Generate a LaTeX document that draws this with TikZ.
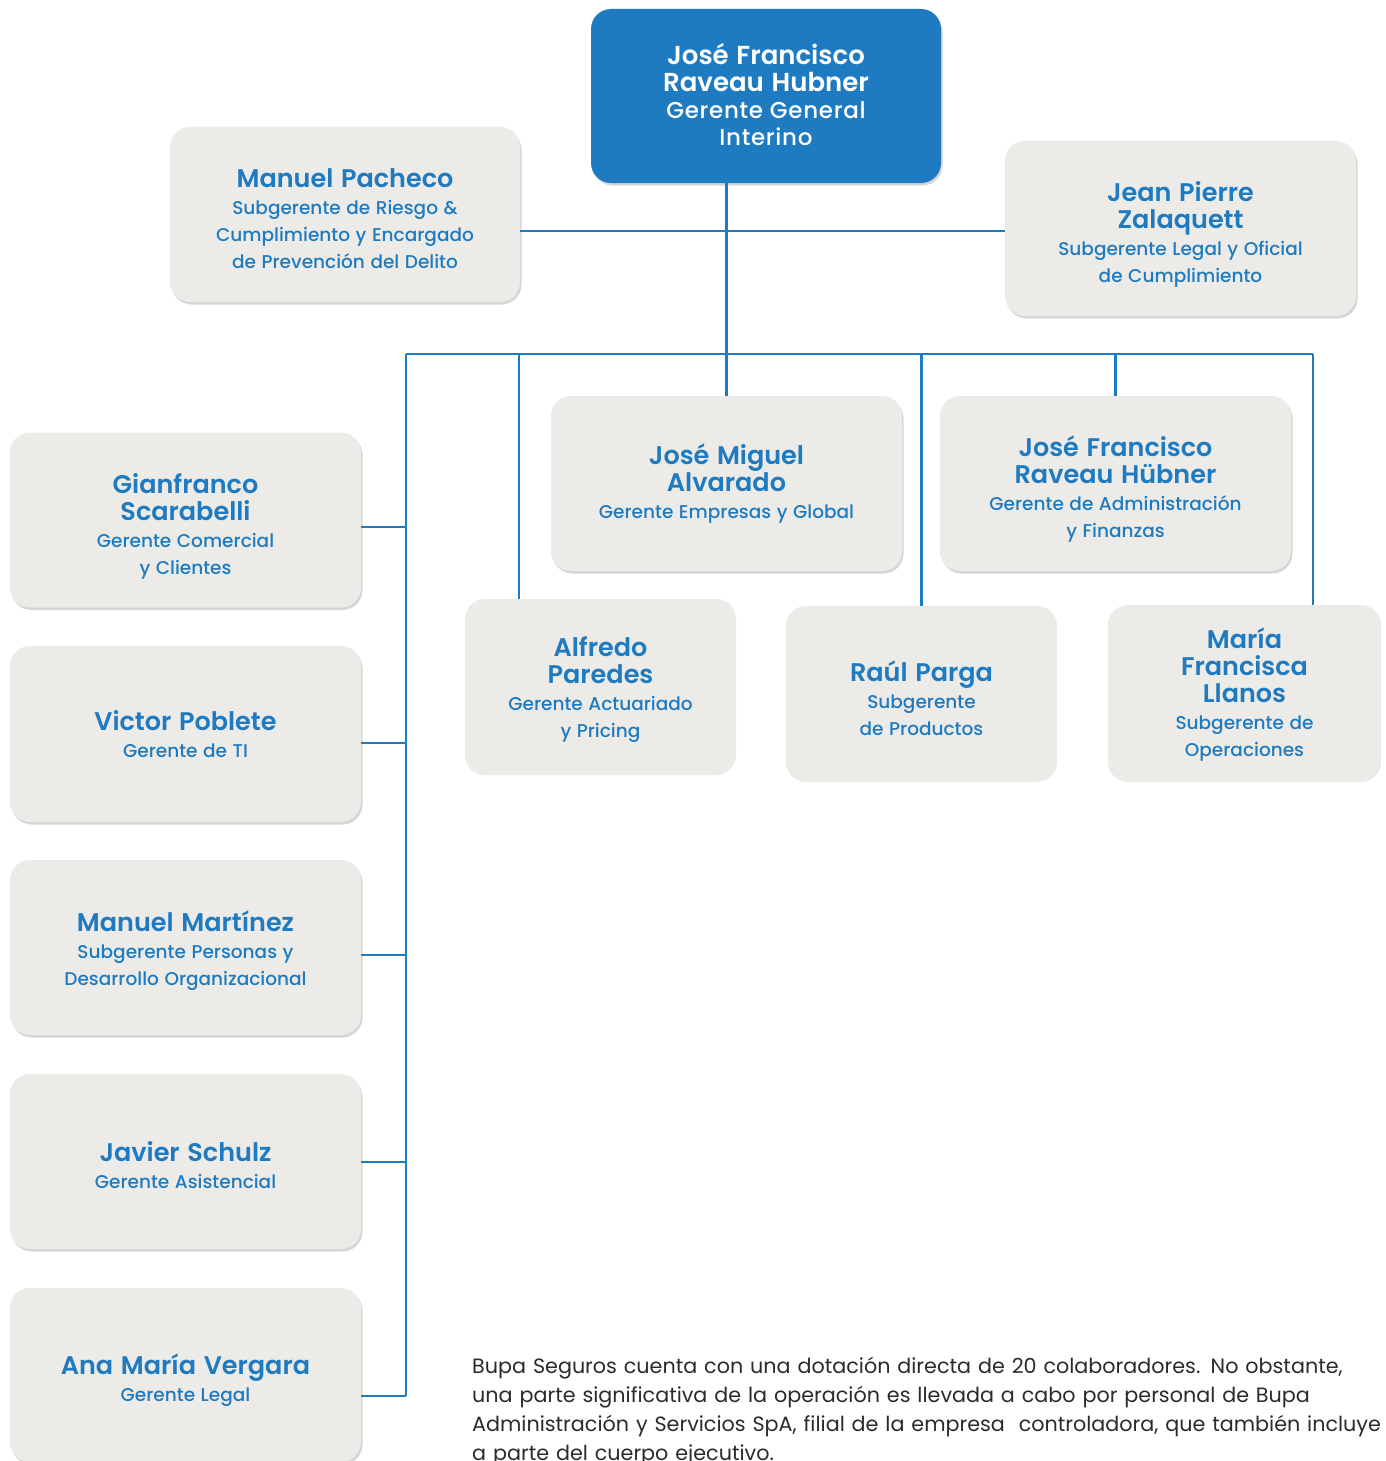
\documentclass[tikz,border=0pt]{standalone}
\usepackage{fontspec}
\setmainfont{Poppins}
\newfontfamily\popsemi{Poppins SemiBold}
\newfontfamily\popmed{Poppins Medium}
\newfontfamily\popmedwide{Poppins Medium}[LetterSpace=3]
\usetikzlibrary{shadows}
\setlength\parindent{0pt}
\definecolor{bblue}{HTML}{1E7BC1}
\definecolor{cardgray}{HTML}{ECEBE7}
\definecolor{paracol}{HTML}{2B2B2B}
\newcommand\namef{\popsemi\fontsize{25.5}{27}\selectfont\spaceskip=0.3em\relax}
\newcommand\subf{\popmed\fontsize{18.5}{27}\selectfont\spaceskip=0.3em\relax}
\newcommand\topname{\popsemi\fontsize{26}{27}\selectfont\spaceskip=0.3em\relax}
\newcommand\topsub{\popmedwide\fontsize{23}{27}\selectfont\spaceskip=0.3em\relax}
\newcommand\down[1]{\vskip #1\relax}
\tikzset{
  card/.style={rounded corners=20pt, fill=cardgray, text=bblue, align=center,
    inner xsep=8pt, inner ysep=0pt},
  topcard/.style={rounded corners=20pt, fill=bblue, text=white, align=center,
    inner xsep=8pt, inner ysep=0pt},
  shad/.style={drop shadow={shadow xshift=1.5pt, shadow yshift=-2.5pt, opacity=0.16, fill=black}},
  wire/.style={draw=bblue, line width=2.4pt},
  paratext/.style={inner sep=0pt, anchor=base west, align=left, text width=1100pt,
    font=\fontsize{20.7}{29}\selectfont, text=paracol},
}
\begin{document}
\begin{tikzpicture}[x=1pt,y=-1pt]
\useasboundingbox (0,0) rectangle (1386,1461);
\fill[white] (0,0) rectangle (1386,1461);

% junction coordinates
\coordinate (jtop) at (726,231);
\coordinate (barL) at (406,354);
\coordinate (barR) at (1313,354);
\coordinate (bA) at (519,354);
\coordinate (bL1) at (406,527);
\coordinate (bL2) at (406,743);
\coordinate (bL3) at (406,955);
\coordinate (bL4) at (406,1162);
\coordinate (bL5) at (406,1396);

% boxes
\node[topcard, shad, minimum width=350pt, minimum height=174pt, text width=334pt] (top) at (766,96)
  {\down{-9pt}{\topname José Francisco\par Raveau Hubner\par}{\topsub Gerente General\par Interino\par}};

\node[card, shad, minimum width=350pt, minimum height=175pt, text width=334pt] (pacheco) at (345,214.5)
  {\down{1pt}{\namef Manuel Pacheco\par}{\subf Subgerente de Riesgo \&\par Cumplimiento y Encargado\par de Prevención del Delito\par}};

\node[card, shad, minimum width=351pt, minimum height=175pt, text width=335pt] (jean) at (1180.5,228.5)
  {\down{4pt}{\namef Jean Pierre\par Zalaquett\par}{\subf Subgerente Legal y Oficial\par de Cumplimiento\par}};

\node[card, shad, minimum width=351pt, minimum height=175pt, text width=335pt] (jmiguel) at (726.5,483.5)
  {{\namef José Miguel\par Alvarado\par}{\subf Gerente Empresas y Global\par}};

\node[card, shad, minimum width=351pt, minimum height=175pt, text width=335pt] (jfran) at (1115.5,483.5)
  {\down{5pt}{\namef José Francisco\par Raveau Hübner\par}{\subf Gerente de Administración\par y Finanzas\par}};

\node[card, minimum width=271pt, minimum height=176pt, text width=255pt] (alfredo) at (600.5,687)
  {\down{-2pt}{\namef Alfredo\par Paredes\par}{\subf Gerente Actuariado\par y Pricing\par}};

\node[card, minimum width=271pt, minimum height=176pt, text width=255pt] (raul) at (921.5,694)
  {\down{2pt}{\namef Raúl Parga\par}{\subf Subgerente\par de Productos\par}};

\node[card, minimum width=273pt, minimum height=177pt, text width=257pt] (maria) at (1244.5,693.5)
  {\down{-4pt}{\namef María\par Francisca\par Llanos\par}{\subf Subgerente de\par Operaciones\par}};

\node[card, shad, minimum width=351pt, minimum height=175pt, text width=335pt] (gian) at (185.5,520)
  {\down{6pt}{\namef Gianfranco\par Scarabelli\par}{\subf Gerente Comercial\par y Clientes\par}};

\node[card, shad, minimum width=351pt, minimum height=176pt, text width=335pt] (victor) at (185.5,734)
  {{\namef Victor Poblete\par}{\subf Gerente de TI\par}};

\node[card, shad, minimum width=351pt, minimum height=175pt, text width=335pt] (mmart) at (185.5,947.5)
  {\down{0pt}{\namef Manuel Martínez\par}{\subf Subgerente Personas y\par Desarrollo Organizacional\par}};

\node[card, shad, minimum width=351pt, minimum height=175pt, text width=335pt] (javier) at (185.5,1161.5)
  {\down{1pt}{\namef Javier Schulz\par}{\subf Gerente Asistencial\par}};

\node[card, shad, minimum width=351pt, minimum height=174pt, text width=335pt] (ana) at (185.5,1375)
  {\down{4pt}{\namef Ana María Vergara\par}{\subf Gerente Legal\par}};

% connectors
\draw[wire] (jmiguel.north |- top.south) -- (jmiguel.north);
\draw[wire] (pacheco.east |- jtop) -- (jean.west |- jtop);
\draw[wire] (barL) -- (barR);
\draw[wire] (barL) -- (bL5);
\draw[wire] (bA) -- (bA |- alfredo.north);
\draw[wire] (raul.north |- barL) -- (raul.north);
\draw[wire] (jfran.north |- barL) -- (jfran.north);
\draw[wire] (barR) -- (barR |- maria.north);
\draw[wire] (gian.east |- bL1) -- (bL1);
\draw[wire] (victor.east |- bL2) -- (bL2);
\draw[wire] (mmart.east |- bL3) -- (bL3);
\draw[wire] (javier.east |- bL4) -- (bL4);
\draw[wire] (ana.east |- bL5) -- (bL5);

% paragraph
\node[paratext] (para) at (472,1373)
  {Bupa Seguros cuenta con una dotación directa de 20 colaboradores. No obstante,\\
   una parte significativa de la operación es llevada a cabo por personal de Bupa\\
   Administración y Servicios SpA, filial de la empresa\ \ controladora, que también incluye\\
   a parte del cuerpo ejecutivo.};
\end{tikzpicture}
\end{document}
